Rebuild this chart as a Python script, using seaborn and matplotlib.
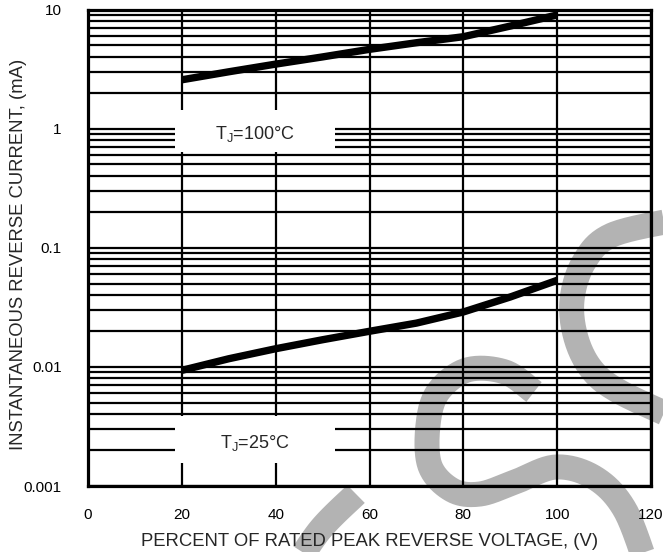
import numpy as np
import matplotlib
matplotlib.use("Agg")
import matplotlib.pyplot as plt
import seaborn as sns
from matplotlib.patches import Rectangle
from matplotlib.lines import Line2D
from matplotlib.ticker import FixedLocator, FixedFormatter, LogLocator, NullFormatter

# data
volt = [20, 30, 40, 50, 60, 70, 80, 90, 100]
i_100 = [2.57, 3.0, 3.48, 4.0, 4.63, 5.26, 5.91, 7.26, 9.0]
i_25 = [0.00935, 0.0117, 0.0142, 0.0169, 0.0199, 0.0233, 0.0289, 0.0386, 0.0533]

x_ticks = [0, 20, 40, 60, 80, 100, 120]
y_ticks = [0.001, 0.01, 0.1, 1, 10]
y_labels = ["0.001", "0.01", "0.1", "1", "10"]

sns.set_style("white")
plt.rcParams["font.family"] = ["Liberation Sans", "DejaVu Sans"]
plt.rcParams["mathtext.default"] = "regular"

W, H = 663, 552
fig = plt.figure(figsize=(W / 100, H / 100), dpi=100)
fig.patch.set_facecolor("white")
ax = fig.add_axes([88 / W, 1 - 486 / H, (651 - 88) / W, (486 - 9.5) / H])
ax.set_facecolor("none")


# grey watermark behind the plot
def smooth(pts, n=20):
    p = np.array(pts, dtype=float)
    p = np.vstack([p[0], p, p[-1]])
    out = []
    for i in range(1, len(p) - 2):
        p0, p1, p2, p3 = p[i - 1], p[i], p[i + 1], p[i + 2]
        for t in np.linspace(0, 1, n, endpoint=False):
            out.append(0.5 * ((2 * p1) + (-p0 + p2) * t
                              + (2 * p0 - 5 * p1 + 4 * p2 - p3) * t ** 2
                              + (-p0 + 3 * p1 - 3 * p2 + p3) * t ** 3))
    out.append(p[-2])
    return np.array(out)


strokes = [
    [(680, 219), (612, 235), (584, 262), (572, 300), (576, 338), (592, 370), (620, 392), (680, 420)],
    [(534, 392), (505, 372), (467, 370), (438, 392), (428, 425), (430, 466), (452, 490), (480, 494),
     (515, 482), (556, 467), (595, 478), (625, 510), (648, 570)],
    [(290, 575), (320, 530), (356, 494)],
]
for s in strokes:
    c = smooth(s)
    fig.add_artist(Line2D(c[:, 0] / W, 1 - c[:, 1] / H, transform=fig.transFigure,
                          color="#b3b3b3", lw=18, solid_capstyle="butt", zorder=-5))

sns.lineplot(x=volt, y=i_100, color="black", linewidth=5.3, ax=ax, zorder=5)
sns.lineplot(x=volt, y=i_25, color="black", linewidth=5.3, ax=ax, zorder=5)
for l in ax.lines:
    l.set_solid_capstyle("butt")

ax.set_yscale("log")
ax.set_xlim(0, 120)
ax.set_ylim(0.001, 10)
ax.xaxis.set_major_locator(FixedLocator(x_ticks))
ax.yaxis.set_major_locator(FixedLocator(y_ticks))
ax.yaxis.set_major_formatter(FixedFormatter(y_labels))
ax.yaxis.set_minor_locator(LogLocator(base=10, subs=np.arange(2, 10)))
ax.yaxis.set_minor_formatter(NullFormatter())

ax.grid(True, which="both", axis="y", color="black", lw=1.6, zorder=1)
ax.grid(True, which="major", axis="x", color="black", lw=1.6, zorder=1)
ax.set_axisbelow(True)

ax.tick_params(axis="both", which="both", length=0, labelsize=11, colors="black")
ax.tick_params(axis="y", pad=19)
ax.tick_params(axis="x", pad=16)
for sp in ax.spines.values():
    sp.set_visible(True)
    sp.set_color("black")
    sp.set_linewidth(2.3)

# white label boxes
ax.add_patch(Rectangle((18.5, 0.641), 34.1, 1.445 - 0.641, facecolor="white", edgecolor="none", zorder=3))
ax.add_patch(Rectangle((18.5, 0.00155), 34.1, 0.00384 - 0.00155, facecolor="white", edgecolor="none", zorder=3))
ax.text(35.6, 0.908, "T$_J$=100°C", fontsize=13, ha="center", va="center", zorder=4)
ax.text(35.6, 0.00228, "T$_J$=25°C", fontsize=13, ha="center", va="center", zorder=4)

ax.set_xlabel("PERCENT OF RATED PEAK REVERSE VOLTAGE, (V)", fontsize=13.3, labelpad=8)
ax.set_ylabel("INSTANTANEOUS REVERSE CURRENT, (mA)", fontsize=13.3)
ax.yaxis.set_label_coords(-0.108, 0.487)

fig.savefig("out.png", dpi=100)
